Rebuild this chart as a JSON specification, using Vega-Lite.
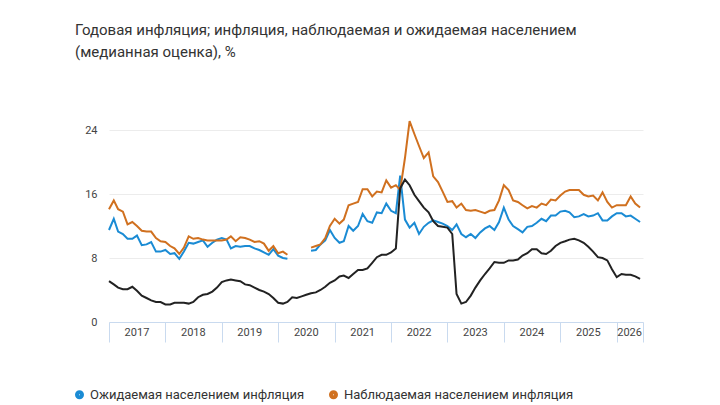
{
  "$schema": "https://vega.github.io/schema/vega-lite/v6.json",
  "width": 534,
  "height": 224,
  "autosize": "none",
  "padding": {"left": 109, "top": 98, "right": 77, "bottom": 83},
  "background": "white",
  "config": {"view": {"stroke": null}, "font": "Roboto"},
  "title": {
    "text": ["Годовая инфляция; инфляция, наблюдаемая и ожидаемая населением", "(медианная оценка), %"],
    "anchor": "start", "frame": "group", "dx": -34, "offset": 38,
    "fontSize": 15, "fontWeight": "normal", "color": "#333", "lineHeight": 22
  },
  "datasets": {
    "years": [
      {"year": "2017", "mid": "2017-07-01"}, {"year": "2018", "mid": "2018-07-01"},
      {"year": "2019", "mid": "2019-07-01"}, {"year": "2020", "mid": "2020-07-01"},
      {"year": "2021", "mid": "2021-07-01"}, {"year": "2022", "mid": "2022-07-01"},
      {"year": "2023", "mid": "2023-07-01"}, {"year": "2024", "mid": "2024-07-01"},
      {"year": "2025", "mid": "2025-07-01"}, {"year": "2026", "mid": "2026-03-25"}
    ]
  },
  "data": {
    "values": [
      {"d":"2017-01-01","cpi":5.1,"exp":11.5,"obs":14.1},{"d":"2017-02-01","cpi":4.7,"exp":12.9,"obs":15.2},{"d":"2017-03-01","cpi":4.3,"exp":11.3,"obs":14.1},{"d":"2017-04-01","cpi":4.1,"exp":11.0,"obs":13.8},{"d":"2017-05-01","cpi":4.1,"exp":10.4,"obs":12.2},{"d":"2017-06-01","cpi":4.4,"exp":10.4,"obs":12.5},{"d":"2017-07-01","cpi":3.9,"exp":10.8,"obs":12.0},{"d":"2017-08-01","cpi":3.3,"exp":9.6,"obs":11.4},{"d":"2017-09-01","cpi":3.0,"exp":9.7,"obs":11.3},{"d":"2017-10-01","cpi":2.7,"exp":10.0,"obs":11.3},{"d":"2017-11-01","cpi":2.5,"exp":8.8,"obs":10.5},{"d":"2017-12-01","cpi":2.5,"exp":8.8,"obs":10.1},
      {"d":"2018-01-01","cpi":2.2,"exp":9.0,"obs":10.0},{"d":"2018-02-01","cpi":2.2,"exp":8.5,"obs":9.5},{"d":"2018-03-01","cpi":2.4,"exp":8.6,"obs":9.2},{"d":"2018-04-01","cpi":2.4,"exp":7.9,"obs":8.5},{"d":"2018-05-01","cpi":2.4,"exp":8.8,"obs":9.3},{"d":"2018-06-01","cpi":2.3,"exp":9.9,"obs":10.7},{"d":"2018-07-01","cpi":2.5,"exp":9.8,"obs":10.4},{"d":"2018-08-01","cpi":3.1,"exp":10.0,"obs":10.5},{"d":"2018-09-01","cpi":3.4,"exp":10.2,"obs":10.3},{"d":"2018-10-01","cpi":3.5,"exp":9.4,"obs":10.2},{"d":"2018-11-01","cpi":3.8,"exp":9.9,"obs":10.2},{"d":"2018-12-01","cpi":4.3,"exp":10.3,"obs":10.2},
      {"d":"2019-01-01","cpi":5.0,"exp":10.5,"obs":10.2},{"d":"2019-02-01","cpi":5.2,"exp":10.3,"obs":10.3},{"d":"2019-03-01","cpi":5.3,"exp":9.2,"obs":10.7},{"d":"2019-04-01","cpi":5.2,"exp":9.5,"obs":10.1},{"d":"2019-05-01","cpi":5.1,"exp":9.4,"obs":10.6},{"d":"2019-06-01","cpi":4.7,"exp":9.5,"obs":10.5},{"d":"2019-07-01","cpi":4.6,"exp":9.5,"obs":10.3},{"d":"2019-08-01","cpi":4.3,"exp":9.2,"obs":10.0},{"d":"2019-09-01","cpi":4.0,"exp":9.0,"obs":10.1},{"d":"2019-10-01","cpi":3.8,"exp":8.7,"obs":9.8},{"d":"2019-11-01","cpi":3.5,"exp":8.4,"obs":8.9},{"d":"2019-12-01","cpi":3.0,"exp":9.1,"obs":9.5},
      {"d":"2020-01-01","cpi":2.4,"exp":8.3,"obs":8.6},{"d":"2020-02-01","cpi":2.3,"exp":8.0,"obs":8.8},{"d":"2020-03-01","cpi":2.5,"exp":7.9,"obs":8.4},{"d":"2020-04-01","cpi":3.1,"exp":null,"obs":null},{"d":"2020-05-01","cpi":3.0,"exp":null,"obs":null},{"d":"2020-06-01","cpi":3.2,"exp":null,"obs":null},{"d":"2020-07-01","cpi":3.4,"exp":null,"obs":null},{"d":"2020-08-01","cpi":3.6,"exp":8.9,"obs":9.3},{"d":"2020-09-01","cpi":3.7,"exp":9.0,"obs":9.5},{"d":"2020-10-01","cpi":4.0,"exp":9.7,"obs":9.7},{"d":"2020-11-01","cpi":4.4,"exp":10.2,"obs":10.5},{"d":"2020-12-01","cpi":4.9,"exp":11.5,"obs":12.0},
      {"d":"2021-01-01","cpi":5.2,"exp":10.5,"obs":12.9},{"d":"2021-02-01","cpi":5.7,"exp":9.9,"obs":12.3},{"d":"2021-03-01","cpi":5.8,"exp":10.1,"obs":12.8},{"d":"2021-04-01","cpi":5.5,"exp":12.0,"obs":14.6},{"d":"2021-05-01","cpi":6.0,"exp":11.4,"obs":14.8},{"d":"2021-06-01","cpi":6.5,"exp":12.0,"obs":15.0},{"d":"2021-07-01","cpi":6.5,"exp":13.5,"obs":16.6},{"d":"2021-08-01","cpi":6.7,"exp":12.6,"obs":16.6},{"d":"2021-09-01","cpi":7.4,"exp":12.4,"obs":15.7},{"d":"2021-10-01","cpi":8.1,"exp":13.7,"obs":16.3},{"d":"2021-11-01","cpi":8.4,"exp":13.6,"obs":16.2},{"d":"2021-12-01","cpi":8.4,"exp":14.8,"obs":17.7},
      {"d":"2022-01-01","cpi":8.7,"exp":13.9,"obs":16.8},{"d":"2022-02-01","cpi":9.2,"exp":13.6,"obs":17.1},{"d":"2022-03-01","cpi":16.7,"exp":18.3,"obs":16.5},{"d":"2022-04-01","cpi":17.8,"exp":12.8,"obs":20.5},{"d":"2022-05-01","cpi":17.1,"exp":11.8,"obs":25.1},{"d":"2022-06-01","cpi":15.9,"exp":12.4,"obs":23.5},{"d":"2022-07-01","cpi":15.1,"exp":11.0,"obs":22.0},{"d":"2022-08-01","cpi":14.3,"exp":11.9,"obs":20.5},{"d":"2022-09-01","cpi":13.7,"exp":12.4,"obs":21.2},{"d":"2022-10-01","cpi":12.6,"exp":12.7,"obs":18.2},{"d":"2022-11-01","cpi":12.0,"exp":12.5,"obs":17.5},{"d":"2022-12-01","cpi":11.9,"exp":12.3,"obs":16.3},
      {"d":"2023-01-01","cpi":11.8,"exp":12.0,"obs":15.0},{"d":"2023-02-01","cpi":11.0,"exp":11.5,"obs":15.1},{"d":"2023-03-01","cpi":3.5,"exp":12.2,"obs":14.3},{"d":"2023-04-01","cpi":2.3,"exp":11.0,"obs":14.8},{"d":"2023-05-01","cpi":2.5,"exp":10.6,"obs":14.0},{"d":"2023-06-01","cpi":3.3,"exp":11.0,"obs":13.9},{"d":"2023-07-01","cpi":4.3,"exp":10.5,"obs":14.0},{"d":"2023-08-01","cpi":5.2,"exp":11.2,"obs":13.8},{"d":"2023-09-01","cpi":6.0,"exp":11.7,"obs":13.6},{"d":"2023-10-01","cpi":6.7,"exp":12.0,"obs":13.9},{"d":"2023-11-01","cpi":7.5,"exp":11.5,"obs":14.0},{"d":"2023-12-01","cpi":7.4,"exp":12.5,"obs":15.2},
      {"d":"2024-01-01","cpi":7.4,"exp":14.3,"obs":17.1},{"d":"2024-02-01","cpi":7.7,"exp":12.8,"obs":16.5},{"d":"2024-03-01","cpi":7.7,"exp":12.0,"obs":15.2},{"d":"2024-04-01","cpi":7.8,"exp":11.6,"obs":15.0},{"d":"2024-05-01","cpi":8.3,"exp":11.2,"obs":14.6},{"d":"2024-06-01","cpi":8.6,"exp":11.9,"obs":14.2},{"d":"2024-07-01","cpi":9.1,"exp":12.0,"obs":14.5},{"d":"2024-08-01","cpi":9.1,"exp":12.4,"obs":14.3},{"d":"2024-09-01","cpi":8.6,"exp":12.9,"obs":14.8},{"d":"2024-10-01","cpi":8.5,"exp":12.6,"obs":14.6},{"d":"2024-11-01","cpi":8.9,"exp":13.3,"obs":15.3},{"d":"2024-12-01","cpi":9.5,"exp":13.3,"obs":15.2},
      {"d":"2025-01-01","cpi":9.9,"exp":13.8,"obs":15.8},{"d":"2025-02-01","cpi":10.1,"exp":13.9,"obs":16.3},{"d":"2025-03-01","cpi":10.3,"exp":13.7,"obs":16.5},{"d":"2025-04-01","cpi":10.4,"exp":13.1,"obs":16.5},{"d":"2025-05-01","cpi":10.2,"exp":13.2,"obs":16.5},{"d":"2025-06-01","cpi":9.9,"exp":13.5,"obs":15.9},{"d":"2025-07-01","cpi":9.4,"exp":13.2,"obs":15.7},{"d":"2025-08-01","cpi":8.8,"exp":13.3,"obs":15.8},{"d":"2025-09-01","cpi":8.1,"exp":13.6,"obs":15.2},{"d":"2025-10-01","cpi":8.0,"exp":12.7,"obs":16.2},{"d":"2025-11-01","cpi":7.7,"exp":12.7,"obs":15.0},{"d":"2025-12-01","cpi":6.6,"exp":13.2,"obs":14.3},
      {"d":"2026-01-01","cpi":5.6,"exp":13.6,"obs":14.6},{"d":"2026-02-01","cpi":6.0,"exp":13.6,"obs":14.6},{"d":"2026-03-01","cpi":5.9,"exp":13.2,"obs":14.6},{"d":"2026-04-01","cpi":5.9,"exp":13.3,"obs":15.7},{"d":"2026-05-01","cpi":5.7,"exp":12.9,"obs":14.8},{"d":"2026-06-01","cpi":5.4,"exp":12.5,"obs":14.3}
    ]
  },
  "layer": [
    {
      "transform": [{"fold": ["exp", "obs", "cpi"], "as": ["k", "v"]}],
      "mark": {"type": "line", "strokeWidth": 2, "interpolate": "linear"},
      "encoding": {
        "x": {
          "field": "d", "type": "temporal",
          "scale": {"domain": ["2017-01-01", "2026-06-20"]},
          "axis": {
            "title": null, "labels": false, "grid": false,
            "values": ["2017-01-01","2018-01-01","2019-01-01","2020-01-01","2021-01-01","2022-01-01","2023-01-01","2024-01-01","2025-01-01","2026-01-01","2026-06-20"],
            "tickSize": 20, "tickColor": "#c9daef", "domainColor": "#c9daef", "tickWidth": 1
          }
        },
        "y": {
          "field": "v", "type": "quantitative",
          "scale": {"domain": [0, 28]},
          "axis": {
            "title": null, "values": [0,4,8,12,16,20,24,28], "domain": false, "ticks": false, "labelOverlap": false,
            "gridColor": "#ececec", "labelColor": "#444", "labelFontSize": 11, "labelPadding": 12
          }
        },
        "color": {
          "field": "k", "type": "nominal",
          "scale": {"domain": ["exp", "obs", "cpi"], "range": ["#1a8bd4", "#d0701f", "#222222"]},
          "legend": {
            "title": null, "orient": "none", "legendX": -36, "legendY": 290,
            "direction": "horizontal", "columns": 2, "columnPadding": 16,
            "symbolType": "circle", "symbolSize": 16, "symbolStrokeWidth": 5, "labelFontSize": 13, "labelColor": "#333", "labelLimit": 0,
            "labelExpr": "datum.value == 'exp' ? 'Ожидаемая населением инфляция' : datum.value == 'obs' ? 'Наблюдаемая населением инфляция' : 'Годовая инфляция'"
          }
        }
      }
    },
    {
      "data": {"name": "years"},
      "mark": {"type": "text", "fontSize": 11, "color": "#444", "baseline": "middle"},
      "encoding": {
        "x": {"field": "mid", "type": "temporal"},
        "y": {"datum": -1.4},
        "text": {"field": "year"}
      }
    }
  ]
}
